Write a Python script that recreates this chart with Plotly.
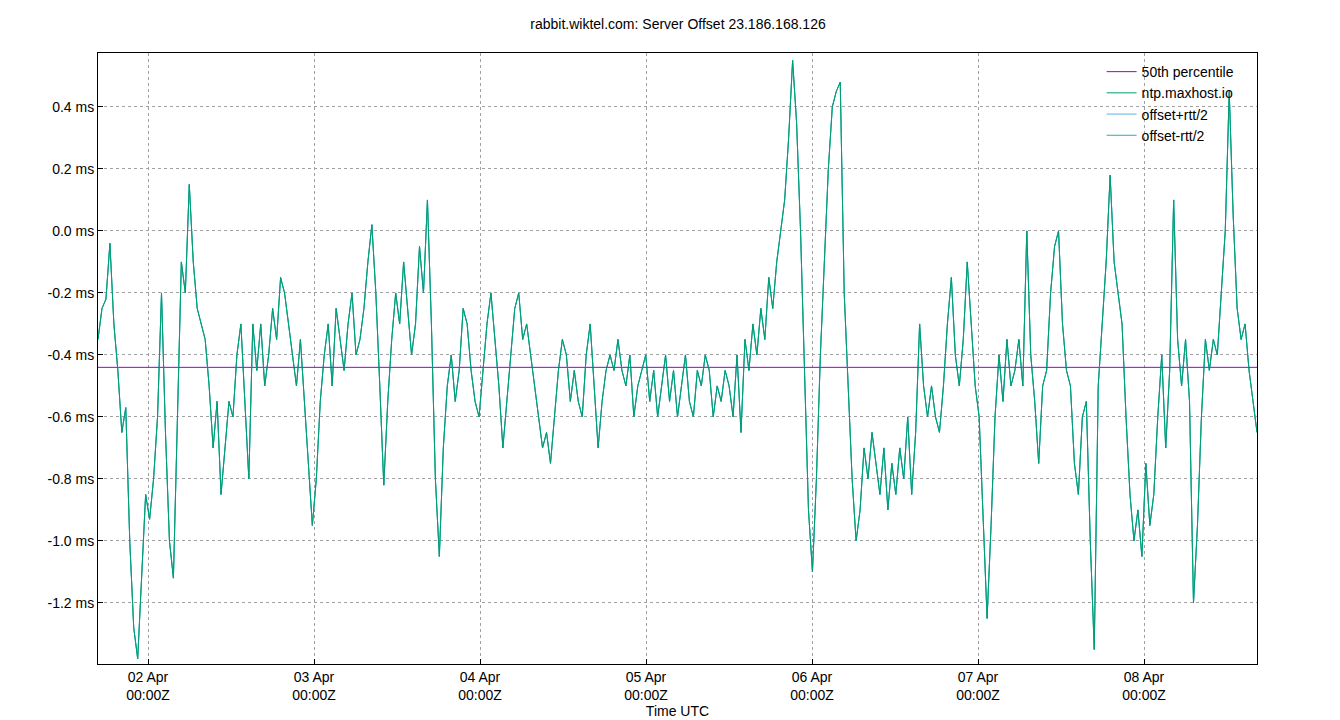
import pandas as pd
import plotly.graph_objects as go

# =========================================================
# DATA (evenly spaced samples)
# =========================================================
start_time = "2025-04-01 16:46"
end_time = "2025-04-08 16:20"
median_offset = -0.44

offset_ms = [
    -0.35, -0.25, -0.22, -0.04, -0.3, -0.45, -0.65, -0.57, -1.0, -1.28, -1.38, -1.1,
    -0.85, -0.93, -0.8, -0.6, -0.2, -0.65, -1.0, -1.12, -0.65, -0.1, -0.2, 0.15,
    -0.1, -0.25, -0.3, -0.35, -0.5, -0.7, -0.55, -0.85, -0.7, -0.55, -0.6, -0.4,
    -0.3, -0.55, -0.8, -0.3, -0.45, -0.3, -0.5, -0.4, -0.25, -0.35, -0.15, -0.2,
    -0.3, -0.4, -0.5, -0.35, -0.55, -0.75, -0.95, -0.8, -0.55, -0.4, -0.3, -0.5,
    -0.25, -0.35, -0.45, -0.3, -0.2, -0.4, -0.35, -0.25, -0.1, 0.02, -0.2, -0.5,
    -0.82, -0.55, -0.35, -0.2, -0.3, -0.1, -0.25, -0.4, -0.3, -0.05, -0.2, 0.1,
    -0.3, -0.8, -1.05, -0.7, -0.5, -0.4, -0.55, -0.45, -0.25, -0.3, -0.45, -0.55,
    -0.6, -0.45, -0.3, -0.2, -0.35, -0.5, -0.7, -0.55, -0.4, -0.25, -0.2, -0.35,
    -0.3, -0.4, -0.5, -0.6, -0.7, -0.65, -0.75, -0.6, -0.45, -0.35, -0.4, -0.55,
    -0.45, -0.55, -0.6, -0.4, -0.3, -0.5, -0.7, -0.55, -0.45, -0.4, -0.45, -0.35,
    -0.45, -0.5, -0.4, -0.6, -0.5, -0.45, -0.4, -0.55, -0.45, -0.6, -0.5, -0.4,
    -0.55, -0.45, -0.6, -0.5, -0.4, -0.55, -0.6, -0.45, -0.5, -0.4, -0.45, -0.6,
    -0.5, -0.55, -0.45, -0.5, -0.6, -0.4, -0.65, -0.35, -0.45, -0.3, -0.4, -0.25,
    -0.35, -0.15, -0.25, -0.1, 0.0, 0.1, 0.3, 0.55, 0.35, 0.0, -0.45, -0.9,
    -1.1, -0.8, -0.4, -0.1, 0.2, 0.4, 0.45, 0.48, -0.2, -0.5, -0.8, -1.0,
    -0.9, -0.7, -0.8, -0.65, -0.75, -0.85, -0.7, -0.9, -0.75, -0.85, -0.7, -0.8,
    -0.6, -0.85, -0.65, -0.3, -0.5, -0.6, -0.5, -0.6, -0.65, -0.5, -0.3, -0.15,
    -0.4, -0.5, -0.35, -0.1, -0.3, -0.5, -0.6, -0.9, -1.25, -0.95, -0.6, -0.4,
    -0.55, -0.35, -0.5, -0.45, -0.35, -0.5, 0.0, -0.4, -0.55, -0.75, -0.5, -0.45,
    -0.2, -0.05, 0.0, -0.3, -0.45, -0.5, -0.75, -0.85, -0.6, -0.55, -1.0, -1.35,
    -0.5, -0.3, -0.1, 0.18, -0.1, -0.2, -0.3, -0.6, -0.85, -1.0, -0.9, -1.05,
    -0.75, -0.95, -0.85, -0.6, -0.4, -0.7, -0.45, 0.1, -0.35, -0.5, -0.35, -0.55,
    -1.2, -0.95, -0.6, -0.35, -0.45, -0.35, -0.4, -0.2, 0.0, 0.45, 0.05, -0.25,
    -0.35, -0.3, -0.45, -0.55, -0.65,
]

tick_dates = ["2025-04-02", "2025-04-03", "2025-04-04", "2025-04-05",
              "2025-04-06", "2025-04-07", "2025-04-08"]
tick_labels = ["02 Apr<br>00:00Z", "03 Apr<br>00:00Z", "04 Apr<br>00:00Z", "05 Apr<br>00:00Z",
               "06 Apr<br>00:00Z", "07 Apr<br>00:00Z", "08 Apr<br>00:00Z"]
y_ticks = [0.4, 0.2, 0.0, -0.2, -0.4, -0.6, -0.8, -1.0, -1.2]
y_labels = [f"{v:.1f} ms" for v in y_ticks]

times = pd.date_range(start_time, end_time, periods=len(offset_ms))

fig = go.Figure()

fig.add_trace(go.Scatter(x=times, y=offset_ms, mode="lines", name="offset+rtt/2",
                         line=dict(color="#56b4e9", width=1), showlegend=False))
fig.add_trace(go.Scatter(x=times, y=offset_ms, mode="lines", name="offset-rtt/2",
                         line=dict(color="#2ab0a0", width=1), showlegend=False))
fig.add_trace(go.Scatter(x=[times[0], times[-1]], y=[median_offset, median_offset],
                         mode="lines", name="50th percentile",
                         line=dict(color="#9400d3", width=1)))
fig.add_trace(go.Scatter(x=times, y=offset_ms, mode="lines", name="ntp.maxhost.io",
                         line=dict(color="#009e73", width=1)))
# legend-only entries for the rtt bands (drawn below the offset line)
fig.add_trace(go.Scatter(x=[None], y=[None], mode="lines", name="offset+rtt/2",
                         line=dict(color="#56b4e9", width=1)))
fig.add_trace(go.Scatter(x=[None], y=[None], mode="lines", name="offset-rtt/2",
                         line=dict(color="#2ab0a0", width=1)))

axis_common = dict(showline=True, linecolor="black", mirror=True, ticks="inside",
                   tickcolor="black", showgrid=True, gridcolor="#a0a0a0",
                   griddash="dot", gridwidth=1, zeroline=False, automargin=False)

fig.update_layout(
    width=1340, height=720,
    paper_bgcolor="white", plot_bgcolor="white",
    font=dict(family="Liberation Sans, Arial", size=14, color="black"),
    title=dict(text="rabbit.wiktel.com: Server Offset 23.186.168.126",
               x=0.5, xanchor="center", y=0.985, yanchor="top", font=dict(size=14)),
    margin=dict(l=90, r=91, t=45, b=64),
    xaxis=dict(title=dict(text="Time UTC", standoff=2, font=dict(size=14)),
               range=[start_time, end_time],
               tickvals=tick_dates, ticktext=tick_labels, **axis_common),
    yaxis=dict(range=[-1.397, 0.574], tickvals=y_ticks, ticktext=y_labels, **axis_common),
    legend=dict(x=0.985, y=0.995, xanchor="right", yanchor="top",
                bgcolor="rgba(255,255,255,0)", font=dict(size=14),
                tracegroupgap=0),
    showlegend=True,
)

fig.write_html("out.html")
